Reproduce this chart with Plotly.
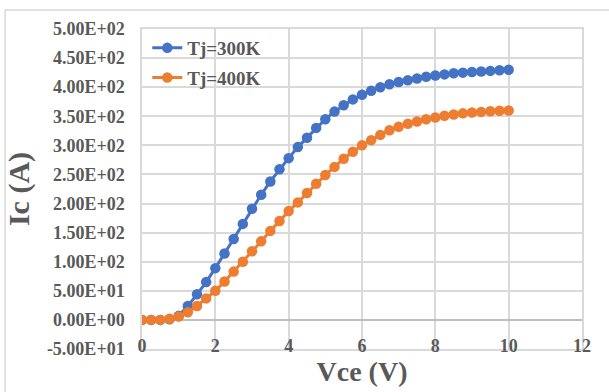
import plotly.graph_objects as go

vce = [i * 0.25 for i in range(41)]
ic_300k = [0, 0, 0, 1, 7, 24, 44, 65, 89, 114, 139, 165, 191, 215, 238, 259, 278, 297, 313, 330,
           345, 358, 369, 379, 387, 394, 400, 405, 409, 412, 415, 418, 420, 422, 424, 425, 426,
           427, 428, 429, 430]
ic_400k = [0, 0, 0, 2, 6, 13, 24, 37, 50, 66, 83, 100, 118, 135, 153, 170, 187, 202, 218, 234,
           249, 263, 277, 289, 300, 309, 318, 326, 332, 337, 341, 345, 348, 351, 353, 355, 356.5,
           357.5, 358.5, 359.5, 360]
series_names = ["Tj=300K", "Tj=400K"]
colors = ["#4472C4", "#ED7D31"]
y_ticks = [-50, 0, 50, 100, 150, 200, 250, 300, 350, 400, 450, 500]
y_ticktext = [f"{v:.2E}" for v in y_ticks]
x_ticks = [0, 2, 4, 6, 8, 10, 12]

FONT = "Liberation Serif, Times New Roman, serif"
GRAY = "#595959"
GRID = "#d9d9d9"

fig = go.Figure()
for name, ys, c, g in zip(series_names, [ic_300k, ic_400k], colors, ["a", "b"]):
    fig.add_trace(go.Scatter(
        x=vce, y=ys, mode="lines+markers", name=name, legendgroup=g,
        line=dict(color=c, width=3),
        marker=dict(color=c, size=10.5),
    ))

fig.update_layout(
    width=609, height=392,
    margin=dict(l=142, r=27, t=29, b=43),
    paper_bgcolor="white", plot_bgcolor="white",
    font=dict(family=FONT, color=GRAY, size=18, weight="bold"),
    showlegend=True,
    legend=dict(x=0.012, y=1.0, xanchor="left", yanchor="top",
                bgcolor="rgba(0,0,0,0)", traceorder="grouped", tracegroupgap=2,
                font=dict(family=FONT, size=19, color=GRAY, weight="bold")),
    xaxis=dict(range=[0, 12], tickvals=x_ticks, showgrid=True, gridcolor=GRID, gridwidth=1.5,
               zeroline=False, showline=True, mirror=True, linecolor=GRID, linewidth=1.5,
               ticks="", ticklabelstandoff=-20,
               tickfont=dict(family=FONT, size=18, color=GRAY, weight="bold"),
               title=dict(text="Vce (V)", standoff=0,
                          font=dict(family=FONT, size=28, color=GRAY, weight="bold"))),
    yaxis=dict(range=[-50, 500], tickvals=y_ticks, ticktext=y_ticktext, showgrid=True,
               gridcolor=GRID, gridwidth=1.5, zeroline=True, zerolinecolor="#bfbfbf",
               zerolinewidth=2, showline=True, mirror=True, linecolor=GRID, linewidth=1.5,
               ticks="", ticklabelstandoff=12,
               tickfont=dict(family=FONT, size=18, color=GRAY, weight="bold"),
               title=dict(text="Ic (A)", standoff=8,
                          font=dict(family=FONT, size=30, color=GRAY, weight="bold"))),
)

fig.add_shape(type="rect", xref="paper", yref="paper",
              x0=-0.311, x1=1.08, y0=-0.2, y1=1.059,
              line=dict(color=GRID, width=1.5), fillcolor="rgba(0,0,0,0)", layer="below")

fig.write_html("out.html", config={"displayModeBar": False},
               post_script="document.body.style.margin='0';document.body.style.overflow='hidden';")
